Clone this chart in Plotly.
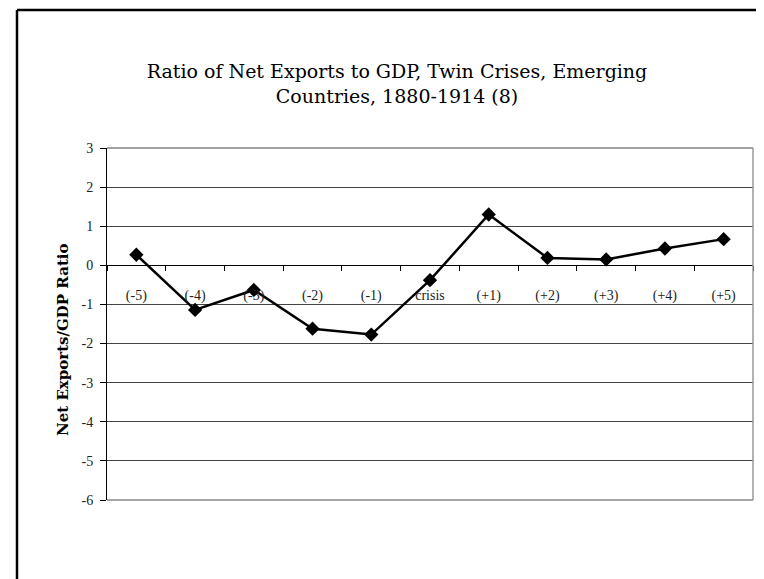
import plotly.graph_objects as go

# periods around the crisis
periods = ["(-5)", "(-4)", "(-3)", "(-2)", "(-1)", "crisis",
           "(+1)", "(+2)", "(+3)", "(+4)", "(+5)"]
net_exports = [0.27, -1.14, -0.63, -1.62, -1.77, -0.38,
               1.30, 0.19, 0.15, 0.43, 0.67]
y_ticks = [3, 2, 1, 0, -1, -2, -3, -4, -5, -6]
y_labels = ["3", "2", "1", "0", "-1", "-2", "-3", "-4", "-5", "-6"]

serif = "'Liberation Serif', 'DejaVu Serif', serif"
wide_serif = "'DejaVu Serif', 'Liberation Serif', serif"

# the page body has an 8px margin, so the figure is drawn 8px smaller
W, H = 756, 571
L, R, T, B = 99, 11, 140, 79

fig = go.Figure()

fig.add_trace(go.Scatter(
    x=periods, y=net_exports,
    mode="lines+markers",
    line=dict(color="black", width=2.5),
    marker=dict(symbol="diamond", size=11, color="black"),
    showlegend=False,
))

fig.update_layout(
    width=W, height=H,
    margin=dict(l=L, r=R, t=T, b=B),
    paper_bgcolor="white",
    plot_bgcolor="white",
    font=dict(family=serif, color="black"),
    title=dict(
        text="Ratio of Net Exports to GDP, Twin Crises, Emerging<br>Countries, 1880-1914 (8)",
        x=389 / W, xanchor="center",
        y=1 - 70 / H, yanchor="middle",
        font=dict(family=wide_serif, size=19, color="black"),
    ),
)

fig.update_xaxes(
    type="category",
    range=[-0.5, len(periods) - 0.5],
    anchor="free", position=6 / 9,
    showgrid=False,
    showline=True, linecolor="black", linewidth=1,
    ticks="outside", ticklen=5, tickcolor="black",
    tickson="boundaries",
    ticklabelstandoff=17,
    tickfont=dict(family=serif, size=14, color="#222"),
)

fig.update_yaxes(
    range=[-6, 3],
    tickvals=y_ticks, ticktext=y_labels,
    showgrid=True, gridcolor="#444", gridwidth=1,
    zeroline=False,
    showline=True, linecolor="black", linewidth=1,
    ticks="outside", ticklen=6, tickcolor="black",
    ticklabelstandoff=4,
    tickfont=dict(family=serif, size=14, color="#222"),
)

# top gridline and plot area right/bottom border
fig.add_shape(type="line", xref="paper", yref="paper", x0=0, x1=1, y0=1, y1=1,
              line=dict(color="#444", width=1))
fig.add_shape(type="line", xref="paper", yref="paper", x0=1, x1=1, y0=0, y1=1,
              line=dict(color="#999", width=1.5))
fig.add_shape(type="line", xref="paper", yref="paper", x0=0, x1=1, y0=0, y1=0,
              line=dict(color="#888", width=1.5))

# outer chart frame (left and top edges visible)
fig.add_shape(type="line", xref="paper", yref="paper",
              x0=-90 / 646, x1=-90 / 646, y0=-79 / 352, y1=490 / 352,
              line=dict(color="black", width=2.5))
fig.add_shape(type="line", xref="paper", yref="paper",
              x0=-90 / 646, x1=660 / 646, y0=490 / 352, y1=490 / 352,
              line=dict(color="black", width=2.5))

# y axis title
fig.add_annotation(
    text="<b>Net Exports/GDP Ratio</b>",
    xref="paper", yref="paper",
    x=-55 / 646, y=160 / 352,
    textangle=-90, showarrow=False,
    font=dict(family=wide_serif, size=15, color="black"),
)

fig.write_html("out.html")
